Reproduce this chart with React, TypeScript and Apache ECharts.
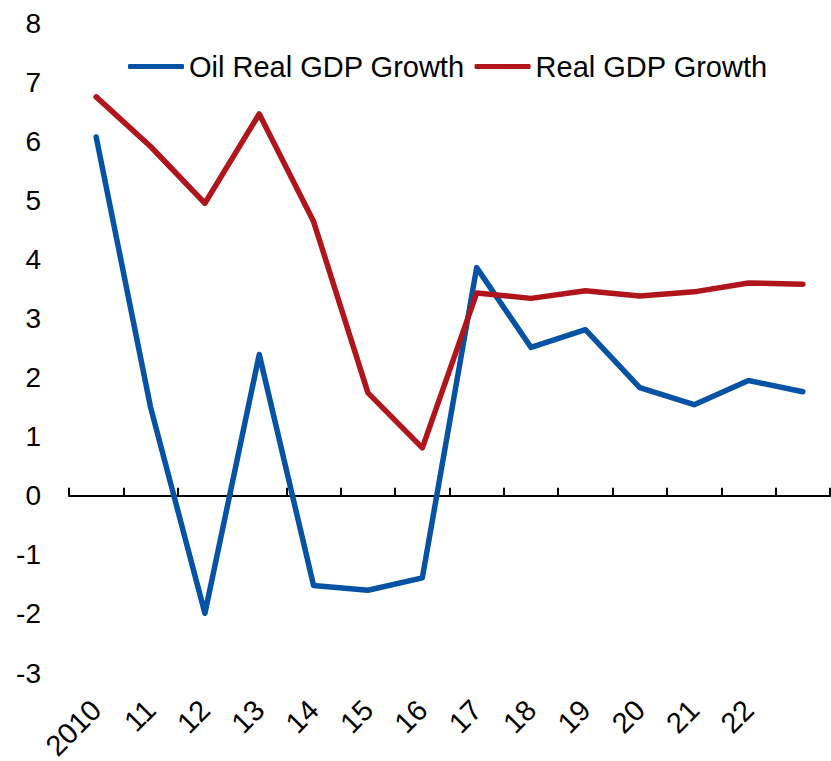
import React, { useEffect, useRef } from "react";
import * as echarts from "echarts";

// Year labels along the bottom; the final year carries no label.
const categories = ["2010", "11", "12", "13", "14", "15", "16", "17", "18", "19", "20", "21", "22", ""];

// Annual growth rates, percent
const oilRealGdpGrowth = [6.07, 1.5, -1.99, 2.39, -1.52, -1.6, -1.39, 3.86, 2.51, 2.81, 1.83, 1.54, 1.95, 1.76];
const realGdpGrowth = [6.75, 5.91, 4.95, 6.46, 4.64, 1.74, 0.81, 3.43, 3.34, 3.47, 3.38, 3.45, 3.6, 3.58];

const seriesNames = ["Oil Real GDP Growth", "Real GDP Growth"];
const seriesColors = ["#0652A5", "#B1151C"];

const FONT = "'Liberation Sans', Arial, Helvetica, sans-serif";

export default function App() {
  const ref = useRef<HTMLDivElement>(null);

  useEffect(() => {
    if (!ref.current) return;
    const chart = echarts.init(ref.current, undefined, { renderer: "svg" });
    chart.setOption({
      animation: false,
      backgroundColor: "#ffffff",
      textStyle: { fontFamily: FONT },
      grid: {
        left: 69,
        right: 1,
        top: 23,
        bottom: 88,
        containLabel: false,
        outerBoundsMode: "none",
      },
      legend: {
        left: 123,
        top: 47,
        icon: "roundRect",
        itemWidth: 56,
        itemHeight: 5,
        itemGap: 10,
        data: seriesNames,
        textStyle: { fontSize: 29, color: "#000", fontFamily: FONT },
      },
      xAxis: [
        {
          // zero line with upward ticks between years
          type: "category",
          data: categories,
          boundaryGap: true,
          axisLine: { onZero: true, lineStyle: { color: "#000", width: 2 } },
          axisTick: { show: true, inside: true, length: 8, lineStyle: { color: "#000", width: 2 } },
          axisLabel: { show: false },
          splitLine: { show: false },
        },
        {
          // year labels below the plot
          type: "category",
          data: categories,
          boundaryGap: true,
          position: "bottom",
          axisLine: { show: false, onZero: false },
          axisTick: { show: false },
          axisLabel: {
            show: true,
            rotate: 45,
            margin: 32,
            interval: 0,
            fontSize: 29,
            color: "#000",
            fontFamily: FONT,
          },
          splitLine: { show: false },
        },
      ],
      yAxis: {
        type: "value",
        min: -3,
        max: 8,
        interval: 1,
        axisLine: { show: false },
        axisTick: { show: false },
        splitLine: { show: false },
        axisLabel: { margin: 28, fontSize: 28, color: "#000", fontFamily: FONT },
      },
      series: [
        {
          name: seriesNames[0],
          type: "line",
          xAxisIndex: 0,
          data: oilRealGdpGrowth,
          symbol: "none",
          color: seriesColors[0],
          lineStyle: { width: 5.5, color: seriesColors[0], cap: "round", join: "round" },
        },
        {
          name: seriesNames[1],
          type: "line",
          xAxisIndex: 0,
          data: realGdpGrowth,
          symbol: "none",
          color: seriesColors[1],
          lineStyle: { width: 5.5, color: seriesColors[1], cap: "round", join: "round" },
        },
      ],
    });
    return () => chart.dispose();
  }, []);

  return <div ref={ref} style={{ width: 831, height: 761, position: "absolute", left: 0, top: 0 }} />;
}
